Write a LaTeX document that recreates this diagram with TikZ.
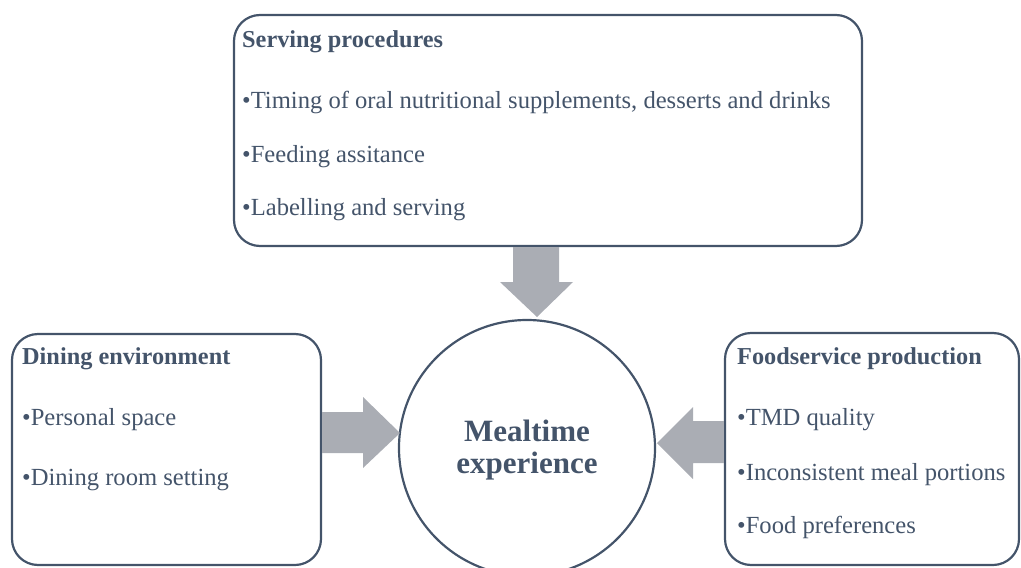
\documentclass[tikz,border=0pt]{standalone}
\usepackage{fontspec}
\setmainfont{Liberation Serif}
\definecolor{ink}{RGB}{68,84,106}
\definecolor{arrowgray}{RGB}{170,173,180}
\begin{document}
\begin{tikzpicture}[x=1pt,y=-1pt,
  box/.style={draw=ink, line width=2.2pt, rounded corners=26pt, inner sep=0pt},
  circ/.style={draw=ink, line width=2.2pt, circle, inner sep=0pt, minimum size=256pt},
  txt/.style={anchor=base west, inner sep=0pt, text=ink, font=\fontsize{24.6}{28}\selectfont},
  headtxt/.style={txt, font=\fontsize{24.3}{28}\selectfont\bfseries},
  ctrtxt/.style={anchor=base, inner sep=0pt, text=ink, font=\fontsize{31}{36}\selectfont\bfseries},
  blockarrow/.style={fill=arrowgray, draw=none}]
\useasboundingbox (0,0) rectangle (1021,568);

% boxes
\node[box, minimum width=628pt, minimum height=231pt] (serv) at (548,130.5) {};
\node[box, minimum width=309pt, minimum height=231pt] (dine) at (166.5,449.5) {};
\node[box, minimum width=294pt, minimum height=232pt] (food) at (872,449) {};
\node[circ] (meal) at (527,448) {};

% block arrows
\fill[blockarrow] (serv.south -| 513,0) -- (513,282) -- (500,282) -- (537,317)
  -- (573,282) -- (559,282) -- (serv.south -| 559,0) -- cycle;
\fill[blockarrow] (dine.east |- 0,412) -- (363,412) -- (363,397) -- (400,433)
  -- (363,468) -- (363,453) -- (dine.east |- 0,453) -- cycle;
\fill[blockarrow] (food.west |- 0,421) -- (693,421) -- (693,407) -- (657,443)
  -- (693,479) -- (693,463) -- (food.west |- 0,463) -- cycle;

% texts: serving procedures
\node[headtxt] (servh) at (242,47) {Serving procedures};
\node[txt] (serv1) at (242,108) {•Timing of oral nutritional supplements, desserts and drinks};
\node[txt] (serv2) at (242,162) {•Feeding assitance};
\node[txt] (serv3) at (242,215) {•Labelling and serving};

% dining environment
\node[headtxt] (dineh) at (22,364) {Dining environment};
\node[txt] (dine1) at (22,425) {•Personal space};
\node[txt] (dine2) at (22,485) {•Dining room setting};

% foodservice production
\node[headtxt] (foodh) at (737,364) {Foodservice production};
\node[txt] (food1) at (737,425) {•TMD quality};
\node[txt] (food2) at (737,480) {•Inconsistent meal portions};
\node[txt] (food3) at (737,533) {•Food preferences};

% centre
\node[ctrtxt] (mealt1) at (527,441) {Mealtime};
\node[ctrtxt] (mealt2) at (527,473) {experience};
\end{tikzpicture}
\end{document}
